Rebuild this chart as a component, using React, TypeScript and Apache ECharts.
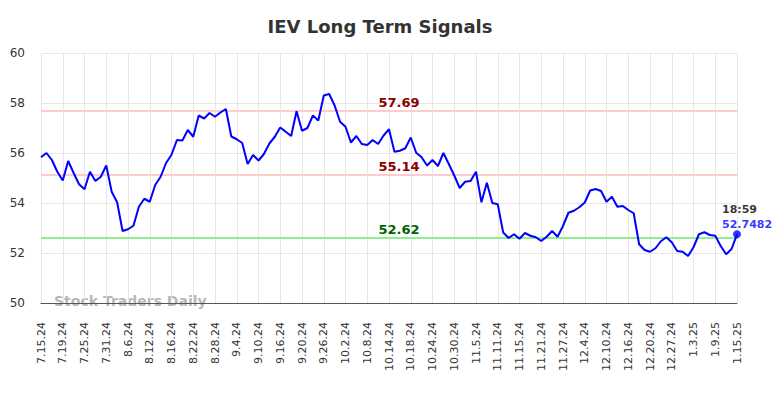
import React, { useEffect, useRef } from "react";
import * as echarts from "echarts";

const dates: string[] = [
  "7.15.24","7.16.24","7.17.24","7.18.24","7.19.24","7.22.24","7.23.24","7.24.24","7.25.24","7.26.24","7.29.24","7.30.24","7.31.24",
  "8.1.24","8.2.24","8.5.24","8.6.24","8.7.24","8.8.24","8.9.24","8.12.24","8.13.24","8.14.24","8.15.24","8.16.24","8.19.24","8.20.24","8.21.24","8.22.24","8.23.24","8.26.24","8.27.24","8.28.24","8.29.24","8.30.24",
  "9.3.24","9.4.24","9.5.24","9.6.24","9.9.24","9.10.24","9.11.24","9.12.24","9.13.24","9.16.24","9.17.24","9.18.24","9.19.24","9.20.24","9.23.24","9.24.24","9.25.24","9.26.24","9.27.24","9.30.24",
  "10.1.24","10.2.24","10.3.24","10.4.24","10.7.24","10.8.24","10.9.24","10.10.24","10.11.24","10.14.24","10.15.24","10.16.24","10.17.24","10.18.24","10.21.24","10.22.24","10.23.24","10.24.24","10.25.24","10.28.24","10.29.24","10.30.24","10.31.24",
  "11.1.24","11.4.24","11.5.24","11.6.24","11.7.24","11.8.24","11.11.24","11.12.24","11.13.24","11.14.24","11.15.24","11.18.24","11.19.24","11.20.24","11.21.24","11.22.24","11.25.24","11.26.24","11.27.24","11.29.24",
  "12.2.24","12.3.24","12.4.24","12.5.24","12.6.24","12.9.24","12.10.24","12.11.24","12.12.24","12.13.24","12.16.24","12.17.24","12.18.24","12.19.24","12.20.24","12.23.24","12.24.24","12.26.24","12.27.24","12.30.24","12.31.24",
  "1.2.25","1.3.25","1.6.25","1.7.25","1.8.25","1.9.25","1.10.25","1.13.25","1.14.25","1.15.25",
];

const prices: number[] = [
  55.83, 56.0, 55.72, 55.25, 54.9, 55.68, 55.2, 54.75, 54.55, 55.25,
  54.88, 55.05, 55.5, 54.45, 54.03, 52.88, 52.95, 53.09, 53.85, 54.17,
  54.05, 54.72, 55.05, 55.6, 55.93, 56.52, 56.5, 56.92, 56.65, 57.5,
  57.38, 57.6, 57.45, 57.62, 57.76, 56.66, 56.55, 56.4, 55.56, 55.92,
  55.7, 55.96, 56.38, 56.65, 57.02, 56.85, 56.68, 57.67, 56.89, 57.0,
  57.5, 57.3, 58.3, 58.36, 57.9, 57.25, 57.05, 56.42, 56.68, 56.36,
  56.32, 56.52, 56.36, 56.7, 56.95, 56.05, 56.09, 56.19, 56.62, 56.01,
  55.83, 55.5, 55.72, 55.48, 56.0, 55.56, 55.1, 54.6, 54.85, 54.88,
  55.25, 54.03, 54.81, 54.0, 53.95, 52.82, 52.6, 52.75, 52.57, 52.8,
  52.69, 52.63, 52.48, 52.65, 52.88, 52.65, 53.08, 53.61, 53.69, 53.83,
  54.02, 54.5, 54.56, 54.48, 54.05, 54.25, 53.85, 53.88, 53.72, 53.59,
  52.35, 52.12, 52.05, 52.19, 52.47, 52.63, 52.43, 52.08, 52.05, 51.88,
  52.23, 52.75, 52.83, 52.72, 52.69, 52.28, 51.95, 52.16, 52.7482,
];

const resistanceLevels: number[] = [57.69, 55.14];
const supportLevels: number[] = [52.62];
const lastTime = "18:59";
const titleText = "IEV Long Term Signals";
const watermark = "Stock Traders Daily";

const FONT = "DejaVu Sans";

export default function App() {
  const ref = useRef<HTMLDivElement>(null);
  useEffect(() => {
    if (!ref.current) return;
    const chart = echarts.init(ref.current, undefined, { renderer: "svg" });
    const lastIdx = prices.length - 1;
    const lastVal = prices[lastIdx];
    const markLineData = [
      ...resistanceLevels.map((y) => ({
        yAxis: y,
        lineStyle: { color: "#ffcccc", width: 2, type: "solid" },
        label: { color: "#8b0000" },
      })),
      ...supportLevels.map((y) => ({
        yAxis: y,
        lineStyle: { color: "#90ee90", width: 2, type: "solid" },
        label: { color: "#006400" },
      })),
    ];
    chart.setOption({
      animation: false,
      title: {
        text: titleText,
        left: 375,
        top: 12,
        textAlign: "center",
        textStyle: { fontFamily: FONT, fontSize: 18, fontWeight: "bold", color: "#333" },
      },
      grid: { left: 41, right: 47, top: 53, bottom: 95, containLabel: false },
      xAxis: {
        type: "category",
        data: dates,
        boundaryGap: false,
        axisLine: { show: true, lineStyle: { color: "#555", width: 1 } },
        axisTick: { show: false },
        axisLabel: {
          interval: 3,
          rotate: 90,
          margin: 19,
          fontFamily: FONT,
          fontSize: 11,
          color: "#333",
        },
        splitLine: { show: true, interval: 3, lineStyle: { color: "#e6e6e6", width: 1 } },
      },
      yAxis: {
        type: "value",
        min: 50,
        max: 60,
        interval: 2,
        axisLine: { show: false },
        axisTick: { show: false },
        axisLabel: { fontFamily: FONT, fontSize: 12, color: "#333", margin: 16 },
        splitLine: { show: true, lineStyle: { color: "#e6e6e6", width: 1 } },
      },
      graphic: [
        {
          type: "text",
          left: 54,
          top: 294,
          z: -1,
          style: {
            text: watermark,
            fontFamily: FONT,
            fontSize: 14,
            fontWeight: "bold",
            fill: "rgba(120,120,120,0.55)",
          },
        },
      ],
      series: [
        {
          type: "line",
          data: prices,
          showSymbol: false,
          symbol: "none",
          lineStyle: { color: "#0000ff", width: 2 },
          itemStyle: { color: "#0000ff" },
          z: 3,
          markLine: {
            silent: true,
            symbol: "none",
            z: 1,
            label: {
              show: true,
              position: "insideMiddleTop",
              distance: 2,
              offset: [10, 0],
              fontFamily: FONT,
              fontSize: 13,
              fontWeight: "bold",
              formatter: (p: any) => p.value.toFixed(2),
            },
            data: markLineData,
          },
        },
        {
          type: "scatter",
          data: [[lastIdx, lastVal]],
          symbol: "circle",
          symbolSize: 8,
          itemStyle: { color: "#0000ff" },
          z: 4,
          label: {
            show: true,
            position: [-11, -28],
            align: "left",
            verticalAlign: "top",
            formatter: `{t|${lastTime}}\n{v|${lastVal}}`,
            rich: {
              t: { fontFamily: FONT, fontWeight: "bold", fontSize: 11, color: "#000", lineHeight: 15 },
              v: { fontFamily: FONT, fontWeight: "bold", fontSize: 11, color: "#0000ff", lineHeight: 15 },
            },
          },
        },
      ],
    });
    return () => chart.dispose();
  }, []);
  return (
    <div
      ref={ref}
      style={{ position: "absolute", left: 0, top: 0, width: 784, height: 398 }}
    />
  );
}
